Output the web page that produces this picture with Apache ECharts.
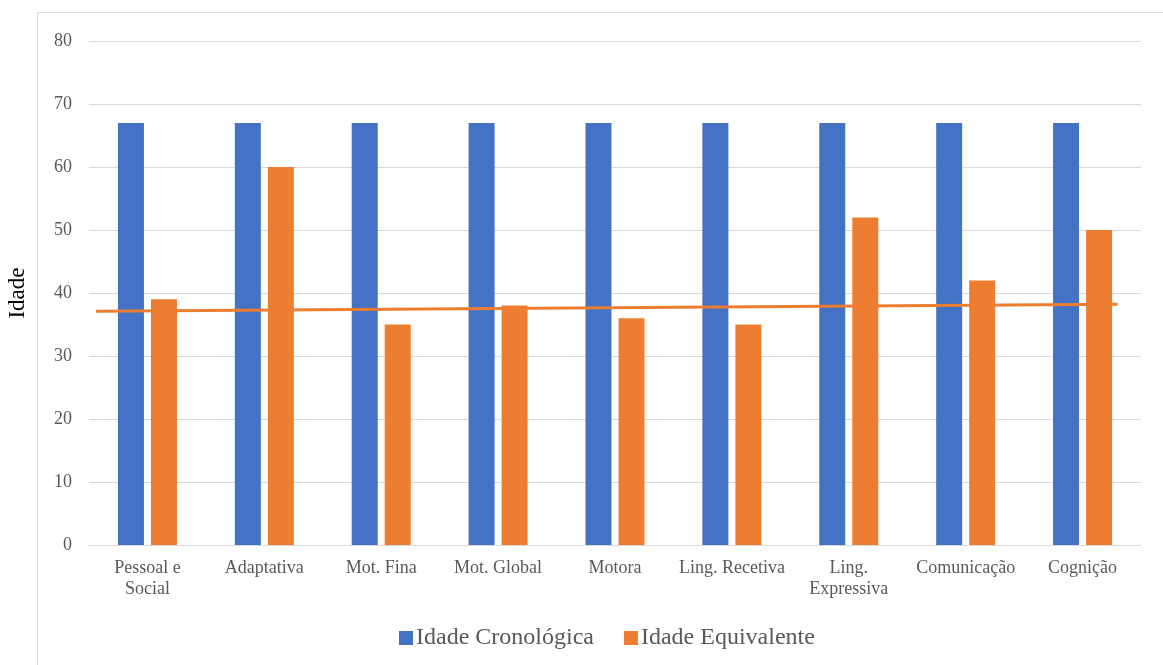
<!DOCTYPE html>
<html>
<head>
<meta charset="utf-8">
<script src="https://cdn.jsdelivr.net/npm/echarts@6/dist/echarts.min.js"></script>
<style>
  html, body { margin: 0; padding: 0; background: #ffffff; }
  #chart { width: 1163px; height: 665px; }
</style>
</head>
<body>
<div id="chart"></div>
<script>
// Developmental domains and the two age series (months)
const categories = ['Pessoal e\nSocial', 'Adaptativa', 'Mot. Fina', 'Mot. Global', 'Motora',
  'Ling. Recetiva', 'Ling.\nExpressiva', 'Comunicação', 'Cognição'];
const idadeCronologica = [67, 67, 67, 67, 67, 67, 67, 67, 67];
const idadeEquivalente = [39, 60, 35, 38, 36, 35, 52, 42, 50];
// Trend line end points: [category position, value]
const trendLine = [[-0.44, 37.1], [8.3, 38.2]];
const yTicks = { min: 0, max: 80, interval: 10 };

const serif = '"Liberation Serif", "Times New Roman", serif';
const chart = echarts.init(document.getElementById('chart'));

chart.setOption({
  animation: false,
  backgroundColor: '#ffffff',
  graphic: [{
    type: 'rect',
    shape: { x: 37.5, y: 12.5, width: 1200, height: 700 },
    style: { fill: 'none', stroke: '#d9d9d9', lineWidth: 1 },
    silent: true
  }],
  grid: { left: 89, right: 22, top: 41, bottom: 120, outerBoundsMode: 'none', containLabel: false },
  legend: {
    data: ['Idade Cronológica', 'Idade Equivalente'],
    bottom: 10,
    left: 394,
    itemWidth: 14,
    itemHeight: 14,
    itemGap: 30,
    icon: 'rect',
    textStyle: { fontFamily: serif, fontSize: 24, color: '#595959', padding: [0, 0, 0, -2] }
  },
  xAxis: [{
    type: 'category',
    data: categories,
    axisLine: { lineStyle: { color: '#d9d9d9', width: 1 } },
    axisTick: { show: false },
    axisLabel: { fontFamily: serif, fontSize: 18, color: '#595959', lineHeight: 21, margin: 13, interval: 0 }
  }, {
    type: 'value',
    min: -0.5,
    max: 8.5,
    show: false
  }],
  yAxis: {
    type: 'value',
    min: yTicks.min,
    max: yTicks.max,
    interval: yTicks.interval,
    name: 'Idade',
    nameLocation: 'middle',
    nameRotate: 90,
    nameGap: 60,
    nameTextStyle: { fontFamily: serif, fontSize: 23, color: '#000000' },
    axisLine: { show: false },
    axisTick: { show: false },
    splitLine: { lineStyle: { color: '#d9d9d9', width: 1 } },
    axisLabel: { fontFamily: serif, fontSize: 18, color: '#595959', margin: 17 }
  },
  series: [{
    name: 'Idade Cronológica',
    type: 'bar',
    data: idadeCronologica,
    barWidth: 26,
    barGap: '27%',
    itemStyle: { color: '#4472c4' }
  }, {
    name: 'Idade Equivalente',
    type: 'bar',
    data: idadeEquivalente,
    barWidth: 26,
    itemStyle: { color: '#ed7d31' }
  }, {
    name: 'Tendência',
    type: 'line',
    xAxisIndex: 1,
    data: trendLine,
    symbol: 'none',
    z: 5,
    lineStyle: { color: '#ed7d31', width: 3 }
  }]
});
</script>
</body>
</html>
